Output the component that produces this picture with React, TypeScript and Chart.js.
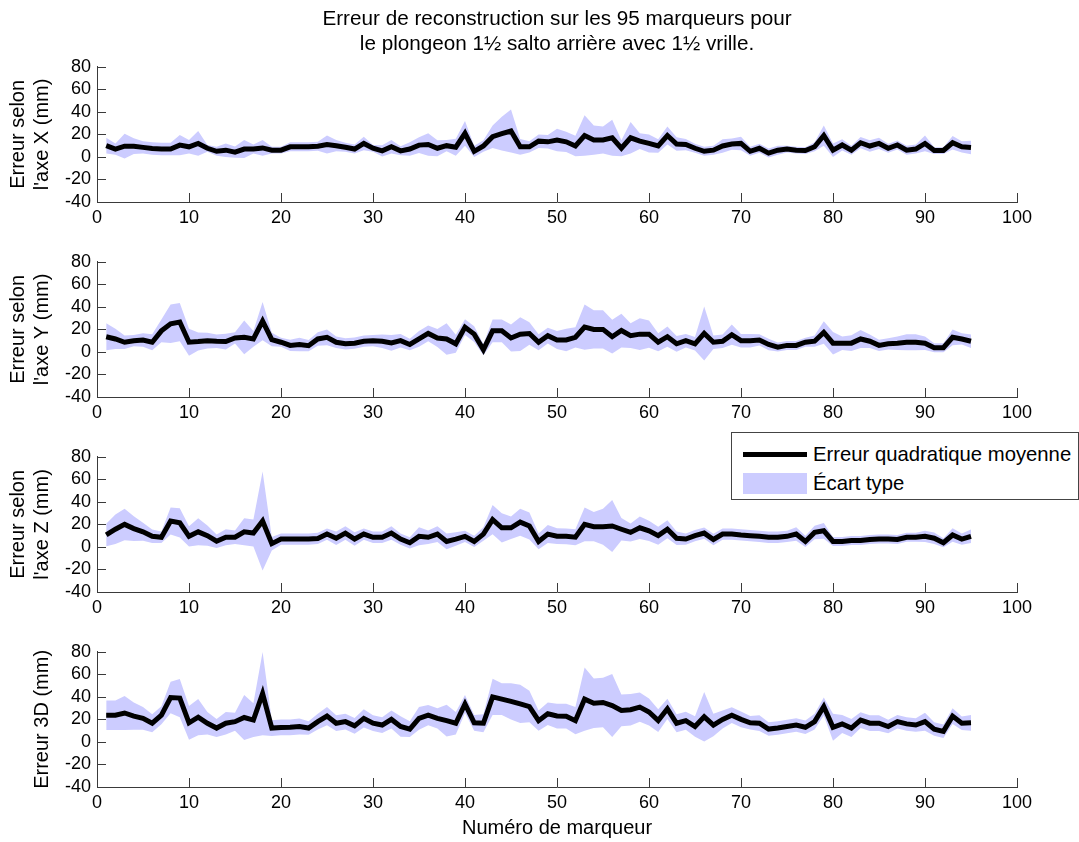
import React, { useEffect, useRef } from 'react';
import { Chart, registerables } from 'chart.js';

Chart.register(...registerables);

const FONT = '"Liberation Sans", Arial, Helvetica, sans-serif';
const AXIS_COLOR = '#3a3a3a';
const BAND_COLOR = '#ccccff';

const markers = Array.from({ length: 95 }, (_, i) => i + 1);

const xTickValues = [0, 10, 20, 30, 40, 50, 60, 70, 80, 90, 100];
const yTickValues = [-40, -20, 0, 20, 40, 60, 80];

const meanX = [10, 7, 9.5, 9.5, 8.5, 7.5, 7, 7, 10.5, 9, 12, 7.7, 5, 6, 4.3, 7, 7, 8, 6, 6,
  9, 9, 9, 9.5, 11, 10, 8.6, 7, 12, 7.7, 5.4, 9, 5.4, 7, 10.5, 11, 7.7, 10, 8.6, 21,
  5, 9.7, 18, 20.6, 23, 9, 9, 14, 13.4, 15, 13.4, 9.7, 19, 15, 15, 17, 7.7, 17, 14, 12,
  9.7, 19, 11.4, 11, 7.7, 5, 6, 9.7, 11.4, 12, 5, 7.7, 3.4, 6, 7, 6, 5.7, 9, 19, 6,
  10.6, 6, 12.6, 9.7, 12, 7.7, 10.6, 6, 7, 12, 5.7, 5.7, 12.6, 9, 8.3];
const stdX = [7, 5, 11, 7, 5.5, 5.5, 5.5, 5.5, 9, 6, 11, 3, 4, 6, 5, 8, 4, 7, 3, 3,
  4, 4, 4, 4, 8, 5, 4, 4, 6, 3, 5, 6, 4, 6, 7, 10, 7, 5, 7.5, 11,
  5, 5, 10, 15, 19, 7, 5, 6, 6, 10, 9, 9, 18, 13, 12, 16, 7, 14, 7, 8,
  6, 8, 6, 5, 4, 4, 4, 6, 5, 6, 4, 4, 4, 4, 3, 3, 3, 4, 9, 6,
  5, 4, 5, 5, 5, 4, 4, 4, 4, 7, 3, 3, 6, 5, 6];

const meanY = [13.5, 11.5, 8.6, 10, 10.6, 8.6, 18.7, 25, 26.5, 8.6, 9.2, 10, 9.5, 9.2, 12.4, 13, 11.5, 27.4, 11, 8.6,
  5.8, 6.6, 5.5, 11.5, 13, 8.6, 7.2, 7.8, 9.5, 10, 9.5, 8, 10, 6.6, 11.5, 16.4, 12.4, 11.5, 7.2, 22,
  15.8, 2, 18.7, 18.7, 12.4, 15.8, 16.4, 8.6, 14.4, 10.5, 10.6, 13, 22, 20, 20, 13.5, 19, 14.4, 15.8, 15.8,
  8.6, 13.5, 7.2, 10, 7.2, 16.4, 8.6, 9.5, 15.3, 10, 10, 10.6, 6.6, 4.3, 5.8, 5.8, 8.6, 9.5, 17.3, 7.8,
  7.8, 7.8, 11.5, 9.5, 5.8, 7.2, 7.8, 8.6, 8.6, 7.8, 3.7, 3.7, 13, 11.5, 9.5];
const stdY = [12, 9, 6, 5, 6, 7, 10, 17, 17, 12, 8, 7, 6, 7, 5, 15, 7, 17, 6, 4,
  5, 6, 5, 6, 7, 5, 5, 5, 5, 5, 6, 7, 6, 5, 7, 7, 8, 14, 8, 7,
  7, 5, 10, 10, 12, 15, 10, 7, 7, 8, 10, 9, 20, 17, 17, 15, 15, 11, 14, 12,
  8, 9, 7, 6, 6, 24, 6, 6, 9, 6, 6, 5, 5, 4, 4, 4, 4, 5, 10, 10,
  6, 7, 8, 6, 5, 5, 6, 7, 7, 6, 4, 4, 7, 5, 6];

const meanZ = [10.6, 15.7, 20, 16.3, 13.4, 9.4, 8.6, 23, 21.4, 9.4, 13.4, 10, 5.1, 8.6, 8.6, 13.4, 12.3, 23, 2.9, 7,
  7, 7, 7, 7.5, 11.4, 7.7, 12.3, 7, 11.4, 8.6, 8.6, 12.3, 7, 3.7, 9.4, 8.6, 11.4, 4.9, 7, 9.4,
  4.9, 11.4, 24.3, 17, 17, 22, 18.6, 4.9, 11.4, 9.5, 9.4, 8.6, 20, 18, 18, 18.6, 15.7, 12.9, 17, 14.3,
  10, 15.7, 7.7, 7, 10, 12.3, 6.6, 11.4, 11.4, 10.6, 10, 9.4, 8.6, 8.6, 9.4, 11.4, 4.9, 12.9, 14.3, 4.9,
  4.9, 5.7, 5.7, 6.6, 7, 7, 6.6, 8.6, 8.6, 9.4, 7.7, 3.7, 10.6, 7, 9.4];
const stdZ = [10, 13, 14, 11, 8, 6, 5, 12, 13, 9, 12, 9, 6, 7, 6, 12, 12, 44, 6, 5,
  5, 5, 5, 5, 5, 6, 6, 6, 5, 5, 5, 6, 5, 5, 8, 6, 7, 7, 6, 5,
  5, 6, 13, 13, 10, 12, 12, 7, 8, 7, 7, 7, 15, 13, 16, 23, 10, 8, 10, 9,
  8, 8, 6, 5, 5, 5, 5, 5, 5, 5, 5, 5, 5, 5, 5, 6, 5, 6, 7, 4,
  4, 4, 4, 4, 4, 4, 4, 4, 4, 5, 5, 4, 6, 5, 6];

const mean3D = [23.7, 23.7, 25.7, 22.9, 20.9, 16.6, 23.7, 39.4, 38.9, 17, 22, 16.6, 12.3, 16.6, 18, 21.7, 19.4, 42.9, 12.3, 12.9,
  13, 13.7, 12.3, 18, 22.9, 16.6, 18, 14.3, 20.9, 16.6, 15, 20, 13.7, 11.4, 20.9, 23.7, 20.9, 18.9, 16.6, 33.7,
  17, 16.6, 40, 38, 36, 33.7, 31.4, 18.9, 25, 23, 22.9, 18.9, 38, 34.3, 35, 32.3, 28, 28.6, 30.9, 26.6,
  18.9, 29.4, 16.6, 18.9, 13.7, 22.3, 15, 20, 23.7, 20, 17, 16.6, 11.4, 12.3, 13.7, 15, 13, 18, 31.4, 13,
  16, 12.3, 19.4, 16.6, 16.6, 13.7, 18, 16, 15, 18, 11.4, 9.4, 22.9, 16.6, 17];
const std3D = [13, 13, 15, 12, 10, 8, 8, 14, 17, 15, 16, 10, 8, 10, 8, 20, 15, 37, 7, 7,
  7, 7, 6, 7, 8, 7, 7, 7, 8, 7, 7, 8, 9, 7, 10, 9, 9, 14, 10, 8,
  7, 8, 16, 14, 16, 17, 14, 9, 10, 11, 11, 12, 28, 22, 22, 28, 14, 14, 13, 12,
  10, 9, 8, 8, 9, 22, 10, 8, 7, 7, 6, 7, 6, 6, 6, 6, 6, 7, 8, 12,
  8, 8, 7, 7, 7, 6, 6, 6, 6, 8, 6, 6, 7, 6, 7];

const chartTitle = ['Erreur de reconstruction sur les 95 marqueurs pour', 'le plongeon 1½ salto arrière avec 1½ vrille.'];
const xAxisTitle = 'Numéro de marqueur';
const legendLabels = ['Erreur quadratique moyenne', 'Écart type'];

const panels = [
  { yTitle: ['Erreur selon', "l'axe X (mm)"], mean: meanX, std: stdX, titlePad: 6 },
  { yTitle: ['Erreur selon', "l'axe Y (mm)"], mean: meanY, std: stdY, titlePad: 6 },
  { yTitle: ['Erreur selon', "l'axe Z (mm)"], mean: meanZ, std: stdZ, titlePad: 6 },
  { yTitle: 'Erreur 3D (mm)', mean: mean3D, std: std3D, titlePad: 30 },
];

const PLOT_LEFT = 97;
const PLOT_RIGHT = 1017;
const PLOT_HEIGHT = 140;
const PANEL_STEP = 195;
const FIRST_TOP = 62;
const PAD_TOP = 12;

const innerTicks = {
  id: 'innerTicks',
  afterDatasetsDraw(chart: any) {
    const { ctx, chartArea, scales } = chart;
    const { left, bottom } = chartArea;
    ctx.save();
    ctx.strokeStyle = AXIS_COLOR;
    ctx.lineWidth = 1;
    ctx.beginPath();
    scales.y.ticks.forEach((t: any) => {
      const py = Math.round(scales.y.getPixelForValue(t.value)) + 0.5;
      ctx.moveTo(left, py);
      ctx.lineTo(left + 9, py);
    });
    scales.x.ticks.forEach((t: any) => {
      const px = Math.round(scales.x.getPixelForValue(t.value)) + 0.5;
      ctx.moveTo(px, bottom);
      ctx.lineTo(px, bottom - 9);
    });
    ctx.stroke();
    ctx.restore();
  },
};

function Panel({ index }: { index: number }) {
  const ref = useRef<HTMLCanvasElement | null>(null);
  const p = panels[index];
  const isLast = index === panels.length - 1;
  const xAxisHeight = isLast ? 55 : 32;
  const height = PAD_TOP + PLOT_HEIGHT + xAxisHeight;
  const top = FIRST_TOP + PANEL_STEP * index - PAD_TOP;

  useEffect(() => {
    if (!ref.current) return;
    const lower = markers.map((m, i) => ({ x: m, y: p.mean[i] - p.std[i] }));
    const upper = markers.map((m, i) => ({ x: m, y: p.mean[i] + p.std[i] }));
    const meanPts = markers.map((m, i) => ({ x: m, y: p.mean[i] }));
    const chart = new Chart(ref.current, {
      type: 'line',
      data: {
        datasets: [
          { data: lower, order: 2, borderWidth: 0, pointRadius: 0, fill: false, borderColor: 'rgba(0,0,0,0)' },
          { data: upper, order: 1, borderWidth: 0, pointRadius: 0, fill: '-1', backgroundColor: BAND_COLOR, borderColor: 'rgba(0,0,0,0)' },
          { data: meanPts, order: 0, borderWidth: 5, pointRadius: 0, fill: false, borderColor: '#000000', tension: 0 },
        ],
      },
      options: {
        animation: false,
        responsive: false,
        maintainAspectRatio: false,
        layout: { padding: { top: PAD_TOP, right: 1079 - PLOT_RIGHT, left: 0, bottom: 0 } },
        plugins: { legend: { display: false }, tooltip: { enabled: false }, title: { display: false } },
        scales: {
          x: {
            type: 'linear',
            min: 0,
            max: 100,
            grid: { display: false, drawTicks: false },
            border: { display: true, color: AXIS_COLOR, width: 1 },
            ticks: { stepSize: 10, color: '#000', padding: 5, font: { family: FONT, size: 18 }, maxRotation: 0, autoSkip: false,
              callback: (v: any) => (xTickValues.includes(v) ? String(v) : '') },
            title: isLast
              ? { display: true, text: xAxisTitle, color: '#000', font: { family: FONT, size: 20 }, padding: { top: 0, bottom: 2 } }
              : { display: false },
            afterFit: (s: any) => { s.height = xAxisHeight; },
          },
          y: {
            min: -40,
            max: 80,
            grid: { display: false, drawTicks: false },
            border: { display: true, color: AXIS_COLOR, width: 1 },
            ticks: { stepSize: 20, color: '#000', padding: 6, autoSkip: false, font: { family: FONT, size: 18 },
              callback: (v: any) => (yTickValues.includes(v) ? String(v) : '') },
            title: { display: true, text: p.yTitle, color: '#000', font: { family: FONT, size: 20 }, padding: { top: p.titlePad, bottom: 0 } },
            afterFit: (s: any) => { s.width = PLOT_LEFT; },
          },
        },
      },
      plugins: [innerTicks],
    });
    return () => chart.destroy();
  }, []);

  return (
    <canvas
      ref={ref}
      width={1079}
      height={height}
      style={{ position: 'absolute', left: 0, top, width: 1079, height }}
    />
  );
}

export default function App() {
  return (
    <div style={{ position: 'absolute', left: 0, top: 0, width: 1079, height: 842, background: '#fff', fontFamily: FONT, overflow: 'hidden' }}>
      <div style={{ position: 'absolute', left: PLOT_LEFT, width: PLOT_RIGHT - PLOT_LEFT, top: 5, textAlign: 'center', fontSize: 20.7, lineHeight: '25px', color: '#000', zIndex: 2 }}>
        {chartTitle.map((t) => (<div key={t}>{t}</div>))}
      </div>
      {panels.map((_, i) => (<Panel key={i} index={i} />))}
      <div style={{ position: 'absolute', left: 731, top: 432, width: 346, height: 66, border: '1px solid #444', background: '#fff', zIndex: 3 }}>
        <div style={{ position: 'absolute', left: 11, top: 19, width: 64, height: 5, background: '#000' }} />
        <div style={{ position: 'absolute', left: 81, top: 8, fontSize: 20.3, lineHeight: '26px', color: '#000', whiteSpace: 'nowrap' }}>{legendLabels[0]}</div>
        <div style={{ position: 'absolute', left: 11, top: 40, width: 64, height: 21, background: BAND_COLOR }} />
        <div style={{ position: 'absolute', left: 81, top: 37, fontSize: 20.3, lineHeight: '26px', color: '#000', whiteSpace: 'nowrap' }}>{legendLabels[1]}</div>
      </div>
    </div>
  );
}
